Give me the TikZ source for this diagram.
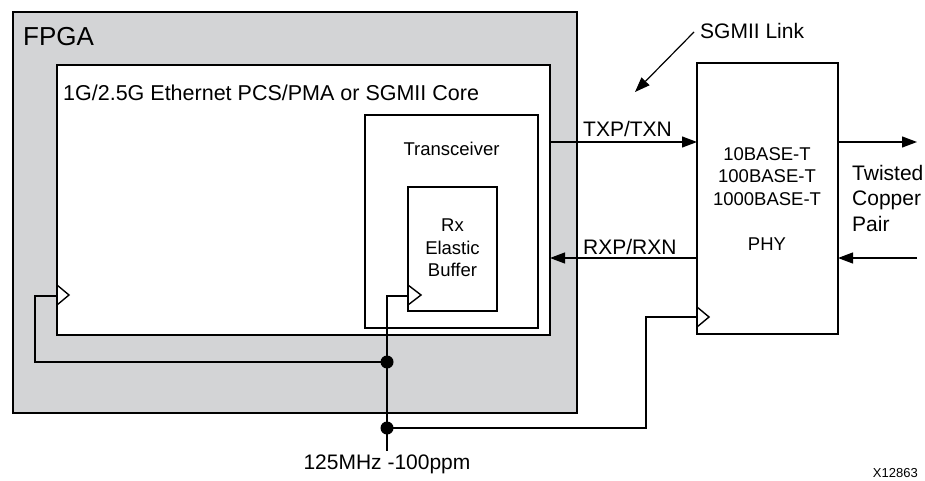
\documentclass[tikz,border=0pt]{standalone}
\usepackage{fontspec}
\setmainfont{Liberation Sans}
\usetikzlibrary{arrows.meta}
\definecolor{fpgagray}{RGB}{211,212,214}
\begin{document}
\begin{tikzpicture}[x=1pt,y=-1pt,
  box/.style={draw, line width=2.5pt, anchor=north west, inner sep=0pt, outer sep=0pt, fill=white},
  wire/.style={line width=1.2pt},
  sig/.style={wire, -{Triangle[length=15pt,width=11pt]}},
  chev/.style={line width=1.4pt},
  jdot/.style={circle, fill=black, inner sep=0pt, minimum size=13pt},
  txt/.style={inner sep=0pt, align=center},
  big/.style={font=\fontsize{26}{30}\selectfont},
  mid/.style={font=\fontsize{21}{25}\selectfont},
  sml/.style={font=\fontsize{18.5}{22.5}\selectfont},
  tiny/.style={font=\fontsize{13}{15}\selectfont}]
\useasboundingbox (0,0) rectangle (925,481);
% boxes
\node[box, fill=fpgagray, minimum width=564pt, minimum height=401pt] (fpga) at (13,12) {};
\node[box, minimum width=493pt, minimum height=270pt] (core) at (57,65) {};
\node[box, minimum width=173pt, minimum height=213pt] (xcvr) at (365,115) {};
\node[box, minimum width=89pt, minimum height=124pt] (rxbuf) at (408,187) {};
\node[box, minimum width=141pt, minimum height=271pt] (phy) at (697,63) {};
% texts
\node[txt, big, anchor=west] (tfpga) at (23,37) {FPGA};
\node[txt, font=\fontsize{21.5}{25}\selectfont, anchor=west] (tcore) at (63,93) {1G/2.5G Ethernet PCS/PMA or SGMII Core};
\node[txt, sml] (txcvr) at (451.5,149) {Transceiver};
\node[txt, sml, anchor=north] (trx) at (452.5,219) {Rx\\Elastic\\Buffer};
\node[txt, sml, anchor=north] (tphy) at (767,147) {10BASE-T\\100BASE-T\\1000BASE-T};
\node[txt, sml] (tphy2) at (767,244) {PHY};
\node[txt, mid, anchor=west] (ttx) at (583,129) {TXP/TXN};
\node[txt, mid, anchor=west] (trxn) at (583,247) {RXP/RXN};
\node[txt, anchor=north west, align=left, font=\fontsize{21}{25.5}\selectfont] (ttw) at (852,165) {Twisted\\Copper\\Pair};
\node[txt, mid, anchor=west] (tsg) at (700,31) {SGMII Link};
\node[txt, mid] (tclk) at (387,464) {125MHz -100ppm};
\node[txt, tiny, anchor=east] (tid) at (918,473) {X12863};
% signal links
\coordinate (ty) at (0,142);
\coordinate (ry) at (0,258);
\coordinate (outr) at (917,142);
\coordinate (inr) at (917,258);
\draw[sig] (core.east |- ty) -- (phy.west |- ty);
\draw[sig] (phy.west |- ry) -- (core.east |- ry);
\draw[sig] (phy.east |- ty) -- (outr);
\draw[sig] (inr) -- (phy.east |- ry);
\coordinate (sgs) at (694,32);
\coordinate (sge) at (635,92);
\draw[sig] (sgs) -- (sge);
% clock inputs (chevrons)
\draw[chev] (core.west |- 0,285) -- ++(12,10) -- ++(-12,10);
\draw[chev] (rxbuf.west |- 0,285) -- ++(13,10) -- ++(-13,10);
\draw[chev] (phy.west |- 0,307) -- ++(12,10) -- ++(-12,10);
% clock tree
\node[jdot] (d1) at (387,362) {};
\node[jdot] (d2) at (387,428) {};
\coordinate (ckend) at (387,451);
\coordinate (ck1) at (core.west |- 0,296);
\coordinate (ck2) at (rxbuf.west |- 0,296);
\coordinate (ck3) at (phy.west |- 0,317);
\draw[wire] (ck1) -- (35,296) |- (d1.center);
\draw[wire] (ck2) -| (ckend);
\draw[wire] (d2.center) -| (646,317) -- (ck3);
\end{tikzpicture}
\end{document}
